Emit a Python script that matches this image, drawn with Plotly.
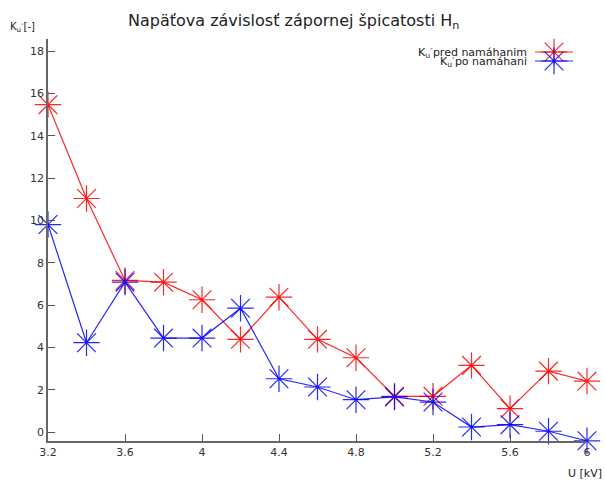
import plotly.graph_objects as go

U = [3.2, 3.4, 3.6, 3.8, 4.0, 4.2, 4.4, 4.6, 4.8, 5.0, 5.2, 5.4, 5.6, 5.8, 6.0]
pred = [15.47, 11.04, 7.17, 7.09, 6.26, 4.39, 6.38, 4.39, 3.52, 1.70, 1.70, 3.16, 1.12, 2.89, 2.42]
po = [9.81, 4.23, 7.09, 4.45, 4.45, 5.86, 2.53, 2.14, 1.54, 1.67, 1.43, 0.25, 0.36, 0.05, -0.40]
x_ticks = [3.2, 3.6, 4.0, 4.4, 4.8, 5.2, 5.6, 6.0]
x_ticklabels = ["3.2", "3.6", "4", "4.4", "4.8", "5.2", "5.6", "6"]
y_ticks = [0, 2, 4, 6, 8, 10, 12, 14, 16, 18]

RED = "rgba(255,0,0,0.85)"
BLUE = "rgba(0,0,255,0.85)"
FONT = "DejaVu Sans, Verdana, sans-serif"

W, H = 606, 481
PL, PR, PT, PB = 48, 587, 39, 441  # plot area in page pixels
L, R, T, B = PL, W - PR, PT, H - PB
PW, PH = PR - PL, PB - PT


def px(x):
    return (x - PL) / PW


def py(y):
    return 1 - (y - PT) / PH


fig = go.Figure()
for vals, col in [(pred, RED), (po, BLUE)]:
    fig.add_trace(go.Scatter(
        x=U, y=vals, mode="lines+markers",
        line=dict(color=col, width=1.2),
        marker=dict(symbol="asterisk-open", size=22, color=col, line=dict(color=col, width=1.2)),
        showlegend=False, cliponaxis=False))

# legend samples on hidden overlay axis
leg_names = ["K<sub>u</sub><sup>-</sup>pred namáhanim", "K<sub>u</sub><sup>-</sup>po namáhani"]
leg_cols = [RED, BLUE]
leg_y = [py(52), py(61)]
for name, col, yy in zip(leg_names, leg_cols, leg_y):
    fig.add_trace(go.Scatter(
        x=[px(535), px(573)], y=[yy, yy], xaxis="x2", yaxis="y2", mode="lines",
        line=dict(color=col, width=1.2), showlegend=False, hoverinfo="skip", cliponaxis=False))
    fig.add_trace(go.Scatter(
        x=[px(554)], y=[yy], xaxis="x2", yaxis="y2", mode="markers",
        marker=dict(symbol="asterisk-open", size=22, color=col, line=dict(color=col, width=1.2)),
        showlegend=False, hoverinfo="skip", cliponaxis=False))
    fig.add_annotation(x=px(529), y=yy, xref="x2", yref="y2", text=name, showarrow=False,
                       xanchor="right", yanchor="middle", font=dict(size=11, color="#222", family=FONT))

axis_common = dict(showgrid=False, zeroline=False, showline=True, linecolor="#666", linewidth=1.5,
                   ticks="inside", ticklen=7, tickcolor="#555", tickwidth=1, automargin=False,
                   tickfont=dict(size=11, color="#333", family=FONT))
fig.update_layout(
    width=W, height=H,
    margin=dict(l=L, r=R, t=T, b=B),
    paper_bgcolor="white", plot_bgcolor="white",
    showlegend=False,
    font=dict(family=FONT),
    xaxis=dict(range=[3.2, 6.0], tickvals=x_ticks, ticktext=x_ticklabels, **axis_common),
    yaxis=dict(range=[-0.41, 18.57], tickvals=y_ticks, **axis_common),
    xaxis2=dict(range=[0, 1], overlaying="x", visible=False, fixedrange=True, automargin=False),
    yaxis2=dict(range=[0, 1], overlaying="y", visible=False, fixedrange=True, automargin=False),
)
fig.add_annotation(x=px(293), y=py(22), xref="paper", yref="paper", showarrow=False,
                   text="Napäťova závislosť zápornej špicatosti H<sub>n</sub>",
                   font=dict(size=16, color="#222", family=FONT), xanchor="center", yanchor="middle")
fig.add_annotation(x=px(8), y=py(27), xref="paper", yref="paper", showarrow=False,
                   text="K<sub>u</sub><sup>-</sup>[-]", xanchor="left", yanchor="middle",
                   font=dict(size=10, color="#222", family=FONT))
fig.add_annotation(x=px(604), y=py(473), xref="paper", yref="paper", showarrow=False,
                   text="U [kV]", xanchor="right", yanchor="middle",
                   font=dict(size=11, color="#222", family=FONT))

fig.write_html("out.html", config={"displayModeBar": False},
               post_script="document.body.style.margin='0';")
